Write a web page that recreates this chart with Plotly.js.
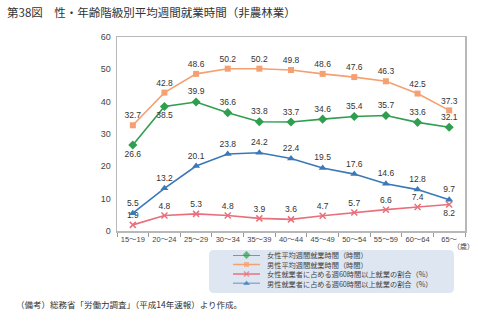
<!DOCTYPE html>
<html><head><meta charset="utf-8">
<script src="https://cdn.plot.ly/plotly-3.0.1.min.js"></script>
<style>html,body{margin:0;padding:0;background:#fff}#chart{width:478px;height:325px}</style>
</head><body><div id="chart"></div>
<script>
const categories = ["15～19","20～24","25～29","30～34","35～39","40～44","45～49","50～54","55～59","60～64","65～"];
const femaleHours = [26.6,38.5,39.9,36.6,33.8,33.7,34.6,35.4,35.7,33.6,32.1];
const maleHours = [32.7,42.8,48.6,50.2,50.2,49.8,48.6,47.6,46.3,42.5,37.3];
const female60 = [1.9,4.8,5.3,4.8,3.9,3.6,4.7,5.7,6.6,7.4,8.2];
const male60 = [5.5,13.2,20.1,23.8,24.2,22.4,19.5,17.6,14.6,12.8,9.7];
const seriesNames = ["女性平均週間就業時間（時間）","男性平均週間就業時間（時間）","女性就業者に占める週60時間以上就業の割合（%）","男性就業者に占める週60時間以上就業の割合（%）"];
const colors = ["#2f9e4e","#f5a070","#e8707c","#3a78b8"];
const symbols = ["diamond","square","x-thin-open","triangle-up"];
const sizes = [7,6,6,7];

const W=478,H=325,L=117,R=13,T=37,B=20;
const pw=W-L-R, ph=H-T-B;
const px=x=>(x-L)/pw, py=y=>(H-B-y)/ph;

const femalePos = femaleHours.map((v,i)=> (i<2?"bottom center":"top center"));
const female60Pos = female60.map((v,i)=> (i===10?"bottom center":"top center"));
const allSeries=[femaleHours,maleHours,female60,male60];
const positions=[femalePos, maleHours.map(()=>"top center"), female60Pos, male60.map(()=>"top center")];

const font="Arial, 'Liberation Sans', 'Noto Sans CJK JP', sans-serif";
const jfont="'Noto Sans CJK JP', sans-serif";
const traces = allSeries.map((s,k)=>({
  type:"scatter", mode:"lines+markers+text", x:categories, y:s,
  name:seriesNames[k], showlegend:false,
  line:{color:colors[k],width:1.6},
  marker:{color:colors[k],symbol:symbols[k],size:sizes[k],line:{color:colors[k],width:k===2?1.5:0}},
  text:s.map(v=>v.toFixed(1)), textposition:positions[k],
  textfont:{family:font,size:8.5,color:"#333"}, cliponaxis:false
}));
// legend keys on an inset axis
seriesNames.forEach((n,k)=>{
  traces.push({type:"scatter",mode:"lines+markers",xaxis:"x2",yaxis:"y2",
    x:[0,0.5,1],y:[3-k,3-k,3-k],showlegend:false,hoverinfo:"skip",
    line:{color:colors[k],width:1.6},
    marker:{color:colors[k],symbol:symbols[k],size:[0,sizes[k]-1,0],line:{color:colors[k],width:k===2?1.5:0}},
    cliponaxis:false});
});
const rowsPx=[255,264.5,274,283.5];
const ann = seriesNames.map((n,k)=>({xref:"paper",yref:"paper",x:px(265),y:py(rowsPx[k]),xanchor:"left",yanchor:"middle",
  text:n,showarrow:false,font:{family:jfont,size:7.2,color:"#444"}}));
ann.push({xref:"paper",yref:"paper",x:px(476),y:py(246),xanchor:"right",yanchor:"middle",text:"（歳）",showarrow:false,font:{family:jfont,size:7,color:"#444"}});
ann.push({xref:"paper",yref:"paper",x:px(14),y:py(304),xanchor:"left",yanchor:"middle",text:"（備考）総務省「労働力調査」（平成14年速報）より作成。",showarrow:false,font:{family:jfont,size:8.5,color:"#333"}});

const bx0=px(209),bx1=px(454),by0=py(293),by1=py(250),rx=5/pw,ry=5/ph;
const path=`M ${bx0+rx} ${by0} L ${bx1-rx} ${by0} Q ${bx1} ${by0} ${bx1} ${by0+ry} L ${bx1} ${by1-ry} Q ${bx1} ${by1} ${bx1-rx} ${by1} L ${bx0+rx} ${by1} Q ${bx0} ${by1} ${bx0} ${by1-ry} L ${bx0} ${by0+ry} Q ${bx0} ${by0} ${bx0+rx} ${by0} Z`;

const layout={
  width:W,height:H,margin:{l:L,r:R,t:T,b:B},paper_bgcolor:"#fff",plot_bgcolor:"#fff",
  title:{text:"第38図　性・年齢階級別平均週間就業時間（非農林業）",xref:"container",yref:"container",x:7/W,xanchor:"left",y:1-13/H,yanchor:"middle",font:{family:jfont,size:11.5,color:"#333"}},
  xaxis:{type:"category",range:[-0.5,10.5],showgrid:false,zeroline:false,showline:true,linecolor:"#b8b8b8",linewidth:1.5,mirror:true,
    ticks:"outside",tickson:"boundaries",ticklen:4,tickcolor:"#999",tickangle:0,tickfont:{family:font,size:7.5,color:"#444"},fixedrange:true},
  yaxis:{domain:[py(231),1],range:[0,60],dtick:10,showgrid:false,zeroline:false,showline:true,linecolor:"#b8b8b8",linewidth:1.5,mirror:true,
    ticks:"",tickfont:{family:font,size:9,color:"#444"},ticklabelstandoff:3},
  xaxis2:{domain:[px(233),px(260)],anchor:"y2",range:[0,1],visible:false,fixedrange:true},
  yaxis2:{domain:[py(rowsPx[3]),py(rowsPx[0])],anchor:"x2",range:[0,3],visible:false,fixedrange:true},
  shapes:[{type:"path",xref:"paper",yref:"paper",path:path,fillcolor:"#dde6f1",line:{width:0},layer:"below"}],
  annotations:ann, showlegend:false
};
Plotly.newPlot("chart",traces,layout,{displayModeBar:false,staticPlot:true});
</script></body></html>
